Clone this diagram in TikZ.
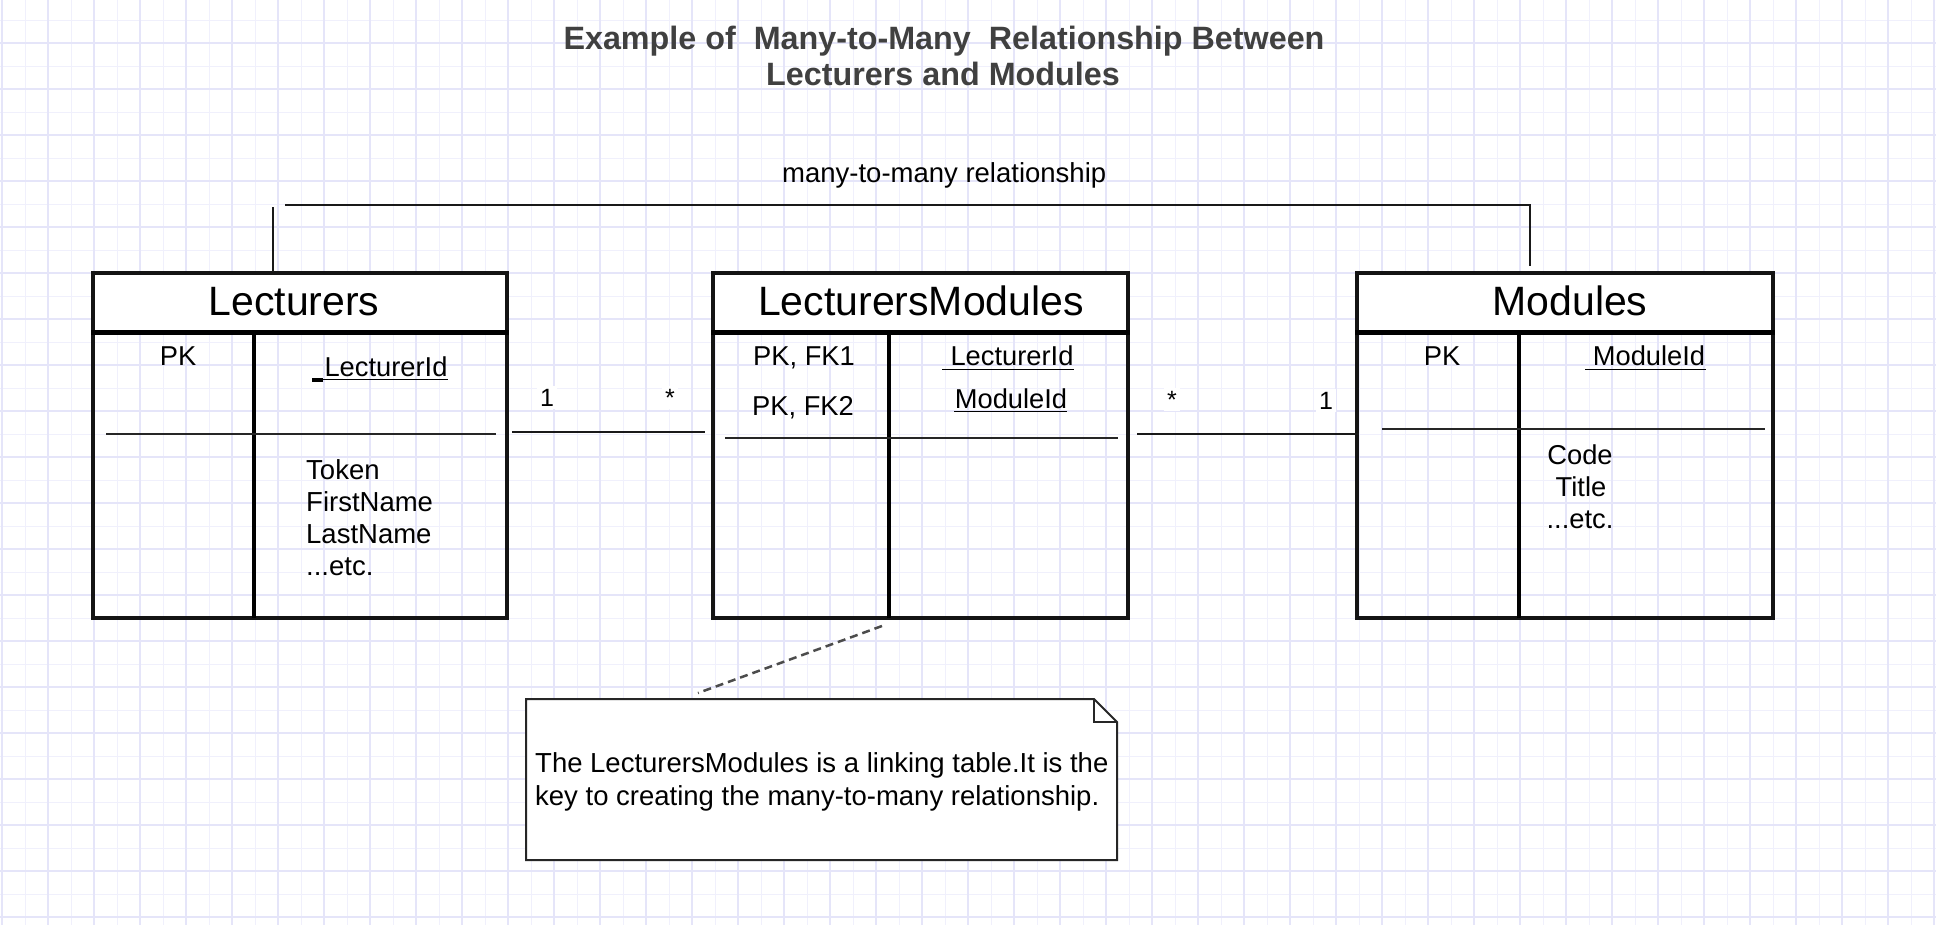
\documentclass[tikz,border=0pt]{standalone}
\usepackage{fontspec}
\setmainfont{Liberation Sans}
\usetikzlibrary{calc}
\definecolor{gridmin}{RGB}{240,240,252}
\definecolor{gridmaj}{RGB}{229,229,249}
\definecolor{titlegray}{RGB}{64,64,64}
\definecolor{boxline}{RGB}{20,20,20}
\newcommand\fsz[2]{\fontsize{#1}{#2}\selectfont}
\tikzset{
  tblbox/.style={draw=boxline, line width=3.5, inner sep=0, minimum height=345},
  hdrline/.style={draw=black, line width=5},
  divline/.style={draw=black, line width=4},
  sepline/.style={draw=black!85, line width=2},
  conn/.style={draw=black!90, line width=2.5},
  hdrtext/.style={anchor=base, inner sep=0, font=\fsz{41}{48}},
  fld/.style={anchor=base, inner sep=0, font=\fsz{27.3}{32}},
  fldw/.style={anchor=base west, inner sep=0, font=\fsz{27.5}{32}},
  mult/.style={anchor=base, fill=white, inner sep=3, font=\fsz{25}{28}},
  titletext/.style={anchor=base, inner sep=0, text=titlegray, font=\fsz{32.3}{36}\bfseries},
  uline/.style={draw=black, line width=1.6},
  notebox/.style={draw=black!85, line width=2, fill=white},
  notelink/.style={draw=black!70, line width=2.5, dash pattern=on 8 off 5}
}
\begin{document}
\begin{tikzpicture}[x=1pt,y=-1pt]
\useasboundingbox (0,0) rectangle (1936,925);
\fill[white] (0,0) rectangle (1936,925);
\begin{scope}
\clip (0,0) rectangle (1936,925);
\foreach \i in {0,...,84} \draw[gridmin, line width=1.4] ({2.3+23*\i},0) -- ({2.3+23*\i},925);
\foreach \j in {0,...,41} \draw[gridmin, line width=1.4] (0,{-2.7+23*\j}) -- (1936,{-2.7+23*\j});
\foreach \i in {0,...,42} \draw[gridmaj, line width=2] ({2.3+46*\i},0) -- ({2.3+46*\i},925);
\foreach \j in {0,...,21} \draw[gridmaj, line width=2] (0,{-2.7+46*\j}) -- (1936,{-2.7+46*\j});
\end{scope}

% title
\node[titletext] (title1) at (944,50) {Example of~ Many-to-Many~ Relationship Between};
\node[titletext] (title2) at (943,86) {Lecturers and Modules};

% header fills
\fill[white] (93,273) rectangle (507,333);
\fill[white] (713,273) rectangle (1128,333);
\fill[white] (1357,273) rectangle (1773,333);

% tables
\node[tblbox, minimum width=414] (lect) at (300,445.5) {};
\node[tblbox, minimum width=415] (lm) at (920.5,445.5) {};
\node[tblbox, minimum width=416] (mod) at (1565,445.5) {};

\draw[hdrline] (lect.north west |- 0,333) -- (lect.north east |- 0,333);
\draw[hdrline] (lm.north west |- 0,333) -- (lm.north east |- 0,333);
\draw[hdrline] (mod.north west |- 0,333) -- (mod.north east |- 0,333);

\draw[divline] (254,333) -- (254,618);
\draw[divline] (889,333) -- (889,618);
\draw[divline] (1519,333) -- (1519,618);

\draw[sepline] (106,434) -- (496,434);
\draw[sepline] (725,438) -- (1118,438);
\draw[sepline] (1382,429) -- (1765,429);

% header texts
\node[hdrtext] (lectname) at (294,316) {Lecturers};
\node[hdrtext] (lmname) at (921,316) {LecturersModules};
\node[hdrtext] (modname) at (1570,316) {Modules};

% Lecturers fields
\node[fld] (lpk) at (178,365) {PK};
\node[fld] (lid) at (386,376) {LecturerId};
\draw[uline] (312,379.5) -- (448,379.5);
\draw[draw=black, line width=3.5] (312,380) -- (323,380);
\node[fldw] (ltok) at (306,479) {Token};
\node[fldw] (lfn) at (306,511) {FirstName};
\node[fldw] (lln) at (306,543) {LastName};
\node[fldw] (letc) at (306,575) {...etc.};

% LecturersModules fields
\node[fld] (lmpk1) at (804,366) {PK, FK1};
\node[fld] (lmpk2) at (803,415) {PK, FK2};
\node[fld] (lmlid) at (1012,366) {LecturerId};
\draw[uline] (942,369.5) -- (1074,369.5);
\node[fld] (lmmid) at (1011,408) {ModuleId};
\draw[uline] (954,411.5) -- (1067,411.5);

% Modules fields
\node[fld] (mpk) at (1442,366) {PK};
\node[fld] (mid) at (1649,366) {ModuleId};
\draw[uline] (1585,369.5) -- (1706,369.5);
\node[fld] (mcode) at (1580,464) {Code};
\node[fld] (mtitle) at (1581,496) {Title};
\node[fld] (metc) at (1580,528) {...etc.};

% connectors between tables
\coordinate (c1a) at (512,432);
\coordinate (c1b) at (705,432);
\coordinate (c2a) at (1137,434);
\coordinate (c2b) at (1359,434);
\draw[conn] (c1a) -- (c1b);
\draw[conn] (c2a) -- (c2b);
\node[mult] (m1a) at (547,406) {1};
\node[mult] (m1b) at (670,406) {*};
\node[mult] (m2a) at (1172,408) {*};
\node[mult] (m2b) at (1326,409) {1};

% many-to-many relationship line
\coordinate (rA) at (273,272);
\coordinate (rB) at (273,207);
\coordinate (rC) at (285,205);
\coordinate (rD) at (1530,205);
\coordinate (rE) at (1530,266);
\draw[conn] (rA) -- (rB);
\draw[conn] (rC) -- (rD) -- (rE);
\node[fldw] (rellabel) at (782,183) {many-to-many relationship};

% note
\draw[notebox] (526,699) -- (1094,699) -- (1117,722) -- (1117,860) -- (526,860) -- cycle;
\draw[draw=black!85, line width=2] (1094,699) -- (1094,722) -- (1117,722);
\node[fldw] (note1) at (535,772) {The LecturersModules is a linking table.It is the};
\node[fldw] (note2) at (535,805) {key to creating the many-to-many relationship.};
\coordinate (dA) at (882,626);
\coordinate (dB) at (698,693);
\draw[notelink] (dA) -- (dB);
\end{tikzpicture}
\end{document}
